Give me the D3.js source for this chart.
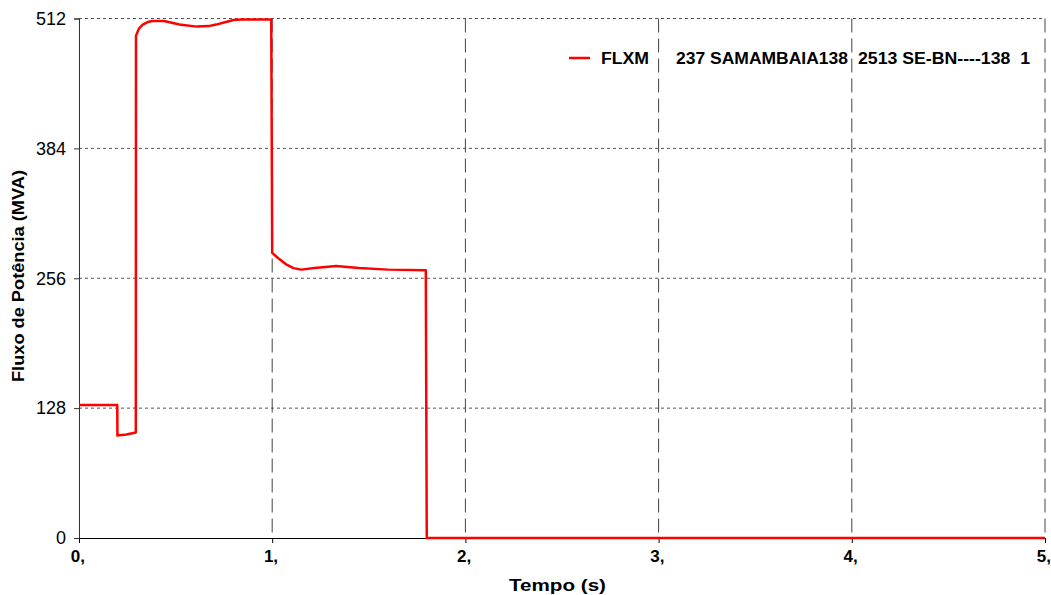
<!DOCTYPE html>
<html>
<head>
<meta charset="utf-8">
<script src="https://cdn.jsdelivr.net/npm/d3@7"></script>
<style>
  body { margin: 0; background: #fff; }
  svg { display: block; font-family: "Liberation Sans", Arial, sans-serif; }
</style>
</head>
<body>
<svg id="chart" width="1051" height="595"></svg>
<script>
// time (s) and flow (MVA)
const tempo = [0, 0.198, 0.199, 0.245, 0.294, 0.295, 0.31, 0.33, 0.355, 0.38, 0.44, 0.52, 0.61, 0.67, 0.71, 0.76, 0.8, 0.84, 0.99, 0.995,
  1.0, 1.03, 1.07, 1.11, 1.15, 1.22, 1.33, 1.45, 1.6, 1.795, 1.8, 5.0];
const fluxo = [131, 131, 101, 102, 104, 495, 502, 506, 508.5, 509.5, 509.5, 506, 504, 504.5, 506, 508.5, 510.5, 511, 511, 511,
  281, 276, 270, 266, 264.5, 266, 268, 266, 264.5, 264, 0, 0];
const yTicks = [0, 128, 256, 384, 512];
const xTicks = [0, 1, 2, 3, 4, 5];
const legendParts = ['FLXM', '237 SAMAMBAIA138', '2513 SE-BN----138  1'];

const svg = d3.select('#chart');
const x = d3.scaleLinear().domain([0, 5]).range([79, 1045]);
const y = d3.scaleLinear().domain([0, 512]).range([538, 18.5]);

// horizontal dotted grid
svg.append('g').selectAll('line')
  .data(yTicks.filter(d => d > 0))
  .enter().append('line')
  .attr('x1', x(0)).attr('x2', x(5))
  .attr('y1', d => y(d)).attr('y2', d => y(d))
  .attr('stroke', '#555').attr('stroke-width', 1)
  .attr('stroke-dasharray', '3,3');

// vertical dashed grid
svg.append('g').selectAll('line')
  .data(xTicks.filter(d => d > 0))
  .enter().append('line')
  .attr('x1', d => x(d)).attr('x2', d => x(d))
  .attr('y1', y(512)).attr('y2', y(0))
  .attr('stroke', '#444').attr('stroke-width', 1)
  .attr('stroke-dasharray', '14,6');

// axes
const xAxis = d3.axisBottom(x).tickValues(xTicks).tickSize(5).tickFormat(d => d + ',');
const gx = svg.append('g').attr('transform', `translate(0,${y(0)})`).call(xAxis);
gx.select('.domain').attr('stroke', '#000');
gx.selectAll('.tick line').attr('stroke', '#000');
gx.selectAll('.tick text')
  .attr('y', 12).attr('dx', '-0.1em').attr('font-size', 17).attr('font-weight', 'bold')
  .attr('font-family', '"Liberation Sans", Arial, sans-serif').attr('fill', '#000');

const yAxis = d3.axisLeft(y).tickValues(yTicks).tickSize(5).tickFormat(d3.format('d'));
const gy = svg.append('g').attr('transform', `translate(${x(0)},0)`).call(yAxis);
gy.select('.domain').attr('stroke', '#333');
gy.selectAll('.tick line').attr('stroke', '#333');
gy.selectAll('.tick text')
  .attr('x', -13).attr('font-size', 18)
  .attr('font-family', '"Liberation Sans", Arial, sans-serif').attr('fill', '#000');

// the series
const line = d3.line().x((d, i) => x(tempo[i])).y(d => y(d));
svg.append('path')
  .datum(fluxo)
  .attr('d', line)
  .attr('fill', 'none')
  .attr('stroke', '#ff0000')
  .attr('stroke-width', 2.5)
  .attr('stroke-linejoin', 'round');

// axis titles
svg.append('text')
  .attr('x', 509).attr('y', 591)
  .attr('font-size', 17).attr('font-weight', 'bold')
  .attr('textLength', 97).attr('lengthAdjust', 'spacingAndGlyphs')
  .text('Tempo (s)');

svg.append('text')
  .attr('transform', 'translate(24,382) rotate(-90)')
  .attr('font-size', 17).attr('font-weight', 'bold')
  .attr('textLength', 212).attr('lengthAdjust', 'spacingAndGlyphs')
  .text('Fluxo de Potência (MVA)');

// legend
const leg = svg.append('g');
leg.append('line')
  .attr('x1', 569).attr('x2', 590).attr('y1', 58).attr('y2', 58)
  .attr('stroke', '#ff0000').attr('stroke-width', 2.5);
const legX = [601, 676, 858];
const legW = [48, 172, 172];
leg.selectAll('text')
  .data(legendParts)
  .enter().append('text')
  .attr('x', (d, i) => legX[i]).attr('y', 64)
  .attr('font-size', 16).attr('font-weight', 'bold')
  .attr('textLength', (d, i) => legW[i])
  .attr('lengthAdjust', 'spacingAndGlyphs')
  .attr('xml:space', 'preserve')
  .style('white-space', 'pre')
  .text(d => d);
</script>
</body>
</html>
